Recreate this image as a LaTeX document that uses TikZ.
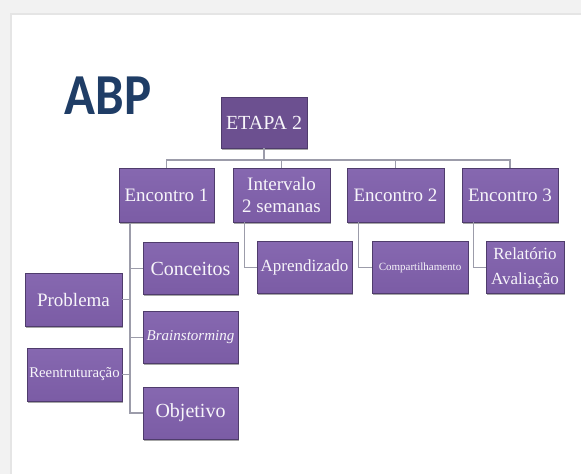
\documentclass[tikz,border=0pt]{standalone}
\usepackage{fontspec}
\setmainfont{Liberation Serif}
\newfontfamily\abpfont{Carlito}
\usetikzlibrary{shadows}
\definecolor{caixa}{HTML}{7B5CA5}
\definecolor{caixatopo}{HTML}{8668B0}
\definecolor{caixaborda}{HTML}{4F3C6C}
\definecolor{etapacor}{HTML}{6C5090}
\definecolor{linha}{HTML}{9C9CAA}
\definecolor{titulo}{HTML}{1F3D66}
\definecolor{moldura}{HTML}{F2F2F2}
\begin{document}
\begin{tikzpicture}[x=1pt,y=-1pt,
  caixa/.style={rectangle,draw=caixaborda,line width=0.8pt,
    top color=caixatopo,bottom color=caixa,text=white!94!caixa,
    minimum width=95pt,minimum height=52pt,inner sep=1pt,align=center,
    font=\fontsize{19}{22}\selectfont,
    drop shadow={shadow xshift=1.2pt,shadow yshift=-1.5pt,fill=black,opacity=0.35}},
  tline/.style={draw=linha,line width=1.4pt}]
  \useasboundingbox (0,0) rectangle (581,474);
  % Fundo do slide
  \fill[white] (0,0) rectangle (581,474);
  \fill[moldura] (0,0) rectangle (581,14);
  \fill[moldura] (0,0) rectangle (11,474);
  \draw[black!10,line width=1.5pt] (11,474) -- (11,14) -- (581,14);
  % Titulo
  \node[text=titulo,font=\abpfont\bfseries\fontsize{58}{58}\selectfont,
    xscale=0.88] (abp) at (108,96) {ABP};
  % Nivel 0 e 1
  \node[caixa,top color=etapacor,bottom color=etapacor,minimum width=86pt,
    minimum height=51pt,font=\fontsize{20}{22}\selectfont] (etapa) at (264,122.5)
    {ETAPA 2};
  \node[caixa,minimum height=54pt] (enc1) at (166.5,195.5) {Encontro 1};
  \node[caixa,minimum width=97pt,minimum height=54pt] (interv) at (281.5,195)
    {Intervalo\\2 semanas};
  \node[caixa,minimum width=97pt,minimum height=54pt] (enc2) at (395.5,195)
    {Encontro 2};
  \node[caixa,minimum width=96pt,minimum height=54pt] (enc3) at (510,195)
    {Encontro 3};
  % Nivel 2
  \node[caixa,font=\fontsize{20}{22}\selectfont] (conceitos) at (190.5,268.5)
    {Conceitos};
  \node[caixa,font=\itshape\fontsize{15}{16}\selectfont] (brain) at (190.5,337.5)
    {Brainstorming};
  \node[caixa,font=\fontsize{20}{22}\selectfont] (objetivo) at (190.5,413)
    {Objetivo};
  \node[caixa,minimum width=97pt,minimum height=53pt] (problema) at (73.5,299.5)
    {Problema};
  \node[caixa,minimum height=53pt,font=\fontsize{14.8}{15}\selectfont] (reent)
    at (74.5,374.5) {Reentruturação};
  \node[caixa,font=\fontsize{17}{20}\selectfont] (aprend) at (304.5,267.5)
    {Aprendizado};
  \node[caixa,minimum width=96pt,font=\fontsize{11}{12}\selectfont] (compart)
    at (420,267.5) {Compartilhamento};
  \node[caixa,minimum width=78pt,font=\fontsize{17}{25}\selectfont] (relat)
    at (525,267.5) {Relatório\\Avaliação};
  % Ligacoes
  \coordinate (bus) at (0,160);
  \coordinate (trunk) at (130,0);
  \foreach \n in {enc1,interv,enc2,enc3}
    \draw[tline] (etapa.south) -- (etapa.south |- bus) -| (\n.north);
  \foreach \n in {conceitos,brain,objetivo}
    \draw[tline] (trunk |- enc1.south) |- (\n.west);
  \foreach \n in {problema,reent}
    \draw[tline] (\n.east) -- (\n.east -| trunk);
  \draw[tline] ([xshift=12pt]interv.south west) |- (aprend.west);
  \draw[tline] ([xshift=12pt]enc2.south west) |- (compart.west);
  \draw[tline] ([xshift=12pt]enc3.south west) |- (relat.west);
\end{tikzpicture}
\end{document}
